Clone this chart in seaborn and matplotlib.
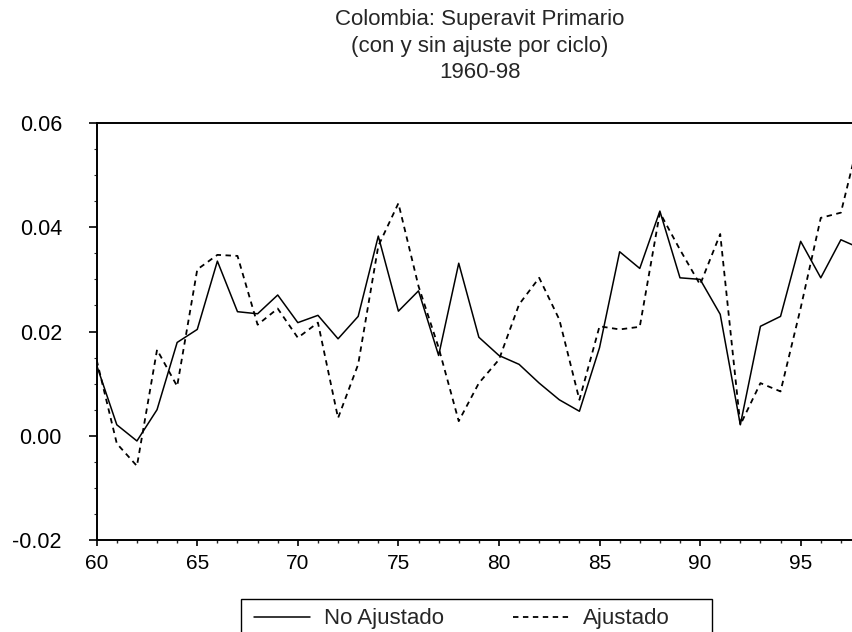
import numpy as np
import pandas as pd
import matplotlib
matplotlib.use("Agg")
import matplotlib.pyplot as plt
from matplotlib.ticker import MultipleLocator, FormatStrFormatter
from matplotlib.patches import Rectangle
import seaborn as sns

years = list(range(60, 99))
no_ajustado = [0.0135, 0.0021, -0.0010, 0.0050, 0.0179, 0.0204, 0.0335, 0.0238, 0.0234, 0.0270,
               0.0217, 0.0231, 0.0186, 0.0229, 0.0383, 0.0239, 0.0278, 0.0154, 0.0331, 0.0189,
               0.0154, 0.0137, 0.0101, 0.0069, 0.0047, 0.0169, 0.0353, 0.0321, 0.0431, 0.0303,
               0.0300, 0.0233, 0.0021, 0.0210, 0.0229, 0.0373, 0.0303, 0.0376, 0.0359]
ajustado = [0.0145, -0.0015, -0.0058, 0.0165, 0.0095, 0.0319, 0.0347, 0.0345, 0.0213, 0.0244,
            0.0188, 0.0217, 0.0034, 0.0137, 0.0364, 0.0446, 0.0287, 0.0169, 0.0028, 0.0101,
            0.0146, 0.0252, 0.0303, 0.0223, 0.0069, 0.0210, 0.0204, 0.0209, 0.0428, 0.0357,
            0.0290, 0.0387, 0.0021, 0.0101, 0.0085, 0.0245, 0.0418, 0.0428, 0.0585]
series_names = ["No Ajustado", "Ajustado"]
title_lines = ["Colombia: Superavit Primario", "(con y sin ajuste por ciclo)", "1960-98"]

sns.set_style("ticks")
plt.rcParams['font.family'] = ['Liberation Sans', 'DejaVu Sans']
plt.rcParams['axes.unicode_minus'] = False

W, H = 853, 632
fig = plt.figure(figsize=(W / 100, H / 100), dpi=100)
left, right, top, bottom = 96.7, 861.0, 123.0, 540.0
ax = fig.add_axes([left / W, 1 - bottom / H, (right - left) / W, (bottom - top) / H])

df = pd.DataFrame({"year": years, series_names[0]: no_ajustado, series_names[1]: ajustado})
sns.lineplot(data=df, x="year", y=series_names[0], ax=ax, color="black", lw=1.1,
             label=series_names[0])
sns.lineplot(data=df, x="year", y=series_names[1], ax=ax, color="black", lw=1.3,
             linestyle="--", label=series_names[1])
ax.lines[1].set_dashes([3, 2.5])

ax.set_xlim(60, 98)
ax.set_ylim(-0.02, 0.06)
ax.set_xlabel("")
ax.set_ylabel("")
ax.xaxis.set_major_locator(MultipleLocator(5))
ax.xaxis.set_minor_locator(MultipleLocator(1))
ax.yaxis.set_major_locator(MultipleLocator(0.02))
ax.yaxis.set_minor_locator(MultipleLocator(0.005))
ax.yaxis.set_major_formatter(FormatStrFormatter('%.2f'))

for s in ["left", "bottom", "top"]:
    ax.spines[s].set_visible(True)
    ax.spines[s].set_linewidth(1.4)
    ax.spines[s].set_color("black")
ax.spines["right"].set_visible(False)

ax.tick_params(axis="x", which="major", direction="out", length=4, width=1.2,
               labelsize=15, pad=6, colors="black")
ax.tick_params(axis="x", which="minor", direction="out", length=2.5, width=1.0)
ax.tick_params(axis="y", which="major", direction="out", length=6, width=1.2,
               labelsize=15.5, pad=19, colors="black")
ax.tick_params(axis="y", which="minor", direction="out", length=2, width=0.8)

fig.text(480 / W, 1 - 9 / H, "\n".join(title_lines), ha="center", va="top",
         fontsize=16, linespacing=1.35)

leg = ax.legend(loc="upper left", bbox_to_anchor=(241 / W, 1 - 595 / H),
                bbox_transform=fig.transFigure, ncol=2, frameon=False,
                fontsize=16, handlelength=2.5, handletextpad=0.65,
                columnspacing=3.1, borderpad=0.6, borderaxespad=0)

fig.patches.append(Rectangle((241 / W, -0.05), (712 - 241) / W, 0.05 + (632 - 599) / H,
                             transform=fig.transFigure, fill=False, edgecolor="black",
                             linewidth=1.0, figure=fig))

fig.savefig("out.png", dpi=100)
